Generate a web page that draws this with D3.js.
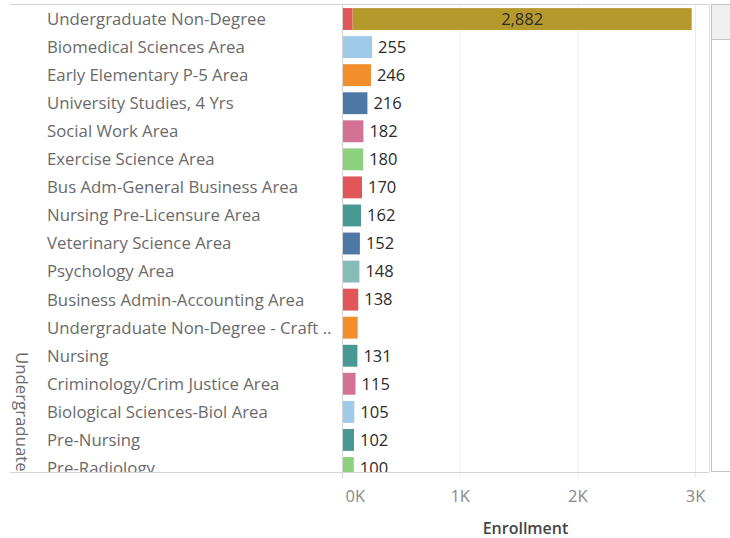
<html>
  <head>
    <script src="https://d3js.org/d3.v7.min.js"></script>
    <style>
      body {margin:0; background:white;}
      text {font-family: "Open Sans", Lato, sans-serif;}
    </style>
  </head>
  <body>
    <div id="chart1"></div>
    <script>
      var programs = ["Undergraduate Non-Degree", "Biomedical Sciences Area", "Early Elementary P-5 Area",
        "University Studies, 4 Yrs", "Social Work Area", "Exercise Science Area", "Bus Adm-General Business Area",
        "Nursing Pre-Licensure Area", "Veterinary Science Area", "Psychology Area", "Business Admin-Accounting Area",
        "Undergraduate Non-Degree - Craft ..", "Nursing", "Criminology/Crim Justice Area",
        "Biological Sciences-Biol Area", "Pre-Nursing", "Pre-Radiology"];
      var enrollment = [2882, 255, 246, 216, 182, 180, 170, 162, 152, 148, 138, 133, 131, 115, 105, 102, 100];
      var extraSegment = [90, 0, 0, 0, 0, 0, 0, 0, 0, 0, 0, 0, 0, 0, 0, 0, 0];
      var barColors = ["#b6992d", "#a0cbe8", "#f28e2b", "#4e79a7", "#d37295", "#8cd17d", "#e15759",
        "#499894", "#4e79a7", "#86bcb6", "#e15759", "#f28e2b", "#499894", "#d37295", "#a0cbe8", "#499894", "#8cd17d"];
      var showLabel = [true, true, true, true, true, true, true, true, true, true, true, false, true, true, true, true, true];
      var tickValues = [0, 1000, 2000, 3000];
      var tickLabels = ["0K", "1K", "2K", "3K"];

      var width = 730, height = 538;
      var plotLeft = 342, plotRight = 709, plotTop = 4, plotBottom = 472;

      var svg = d3.select("#chart1")
        .append("svg")
          .attr("width", width)
          .attr("height", height);

      svg.append("defs").append("clipPath")
        .attr("id", "pane")
        .append("rect")
          .attr("x", 0).attr("y", plotTop)
          .attr("width", plotRight).attr("height", plotBottom - plotTop);

      var x = d3.scaleLinear()
        .domain([0, 3000])
        .range([plotLeft, 695]);

      var y = d3.scaleBand()
        .domain(programs)
        .range([5, 5 + programs.length * 28.06])
        .paddingInner(0.22)
        .paddingOuter(0.11);

      // gridlines
      svg.append("g")
        .selectAll("line")
        .data(tickValues.slice(1))
        .enter()
        .append("line")
          .attr("x1", function(d){ return x(d) + 0.5 })
          .attr("x2", function(d){ return x(d) + 0.5 })
          .attr("y1", plotTop)
          .attr("y2", 478)
          .attr("stroke", "#ececec");

      var pane = svg.append("g").attr("clip-path", "url(#pane)");

      // row labels
      pane.selectAll(".rowlabel")
        .data(programs)
        .enter()
        .append("text")
          .attr("class", "rowlabel")
          .attr("x", 47)
          .attr("y", function(d){ return y(d) + y.bandwidth() / 2 })
          .attr("dy", "0.35em")
          .style("font-size", "16.8px")
          .style("fill", "#6a6a6a")
          .text(function(d){ return d });

      // extra small segment (first row)
      pane.selectAll(".seg0")
        .data(programs)
        .enter()
        .filter(function(d, i){ return extraSegment[i] > 0 })
        .append("rect")
          .attr("x", x(0))
          .attr("y", function(d){ return y(d) })
          .attr("width", function(d){ return x(extraSegment[programs.indexOf(d)]) - x(0) })
          .attr("height", y.bandwidth())
          .style("fill", "#e15759");

      pane.selectAll(".bar")
        .data(programs)
        .enter()
        .append("rect")
          .attr("class", "bar")
          .attr("x", function(d, i){ return x(extraSegment[i]) })
          .attr("y", function(d){ return y(d) })
          .attr("width", function(d, i){ return x(enrollment[i]) - x(0) })
          .attr("height", y.bandwidth())
          .style("fill", function(d, i){ return barColors[i] });

      pane.selectAll(".value")
        .data(programs)
        .enter()
        .filter(function(d, i){ return showLabel[i] })
        .append("text")
          .attr("class", "value")
          .attr("x", function(d){
            var i = programs.indexOf(d);
            if(i == 0){ return (x(extraSegment[i]) + x(extraSegment[i] + enrollment[i])) / 2 }
            return x(extraSegment[i] + enrollment[i]) + 6;
          })
          .attr("text-anchor", function(d){ return programs.indexOf(d) == 0 ? "middle" : "start" })
          .attr("y", function(d){ return y(d) + y.bandwidth() / 2 })
          .attr("dy", "0.35em")
          .style("font-size", "16.5px")
          .style("fill", "#2b2b2b")
          .text(function(d){ return d3.format(",")(enrollment[programs.indexOf(d)]) });

      // header label (rotated)
      pane.append("text")
        .attr("transform", "translate(16,352) rotate(90)")
        .style("font-size", "16.8px")
        .style("fill", "#6a6a6a")
        .text("Undergraduate");

      // borders
      svg.append("line")
        .attr("x1", 10).attr("x2", plotRight)
        .attr("y1", plotTop + 0.5).attr("y2", plotTop + 0.5)
        .attr("stroke", "#d4d4d4");
      svg.append("line")
        .attr("x1", 10).attr("x2", plotRight)
        .attr("y1", plotBottom + 0.5).attr("y2", plotBottom + 0.5)
        .attr("stroke", "#d4d4d4");
      svg.append("line")
        .attr("x1", plotLeft + 0.5).attr("x2", plotLeft + 0.5)
        .attr("y1", plotTop).attr("y2", 478)
        .attr("stroke", "#d4d4d4");
      svg.append("line")
        .attr("x1", plotRight + 0.5).attr("x2", plotRight + 0.5)
        .attr("y1", plotTop).attr("y2", plotBottom)
        .attr("stroke", "#e0e0e0");

      // scrollbar
      svg.append("rect")
        .attr("x", 711.5).attr("y", 4.5)
        .attr("width", 20).attr("height", 467)
        .attr("fill", "white")
        .attr("stroke", "#c4c4c4");
      svg.append("rect")
        .attr("x", 711.5).attr("y", 4.5)
        .attr("width", 20).attr("height", 35)
        .attr("fill", "#f0f0f0")
        .attr("stroke", "#c4c4c4");

      // x axis
      var xAxis = d3.axisBottom(x)
        .tickValues(tickValues)
        .tickSize(0)
        .tickFormat(function(d, i){ return tickLabels[i] });
      var axisG = svg.append("g")
        .attr("transform", "translate(0," + 487 + ")")
        .call(xAxis);
      axisG.select(".domain").remove();
      axisG.selectAll("text")
        .style("font-size", "16.5px")
        .style("fill", "#8a8a8a")
        .style("font-family", "'Open Sans', Lato, sans-serif");
      axisG.selectAll(".tick").filter(function(d){ return d == 0 })
        .select("text")
        .attr("text-anchor", "start")
        .attr("x", 3);

      svg.append("text")
        .attr("x", (plotLeft + plotRight) / 2)
        .attr("y", 534)
        .attr("text-anchor", "middle")
        .style("font-size", "16px")
        .style("font-weight", "600")
        .style("fill", "#454545")
        .text("Enrollment");
    </script>
  </body>
</html>
